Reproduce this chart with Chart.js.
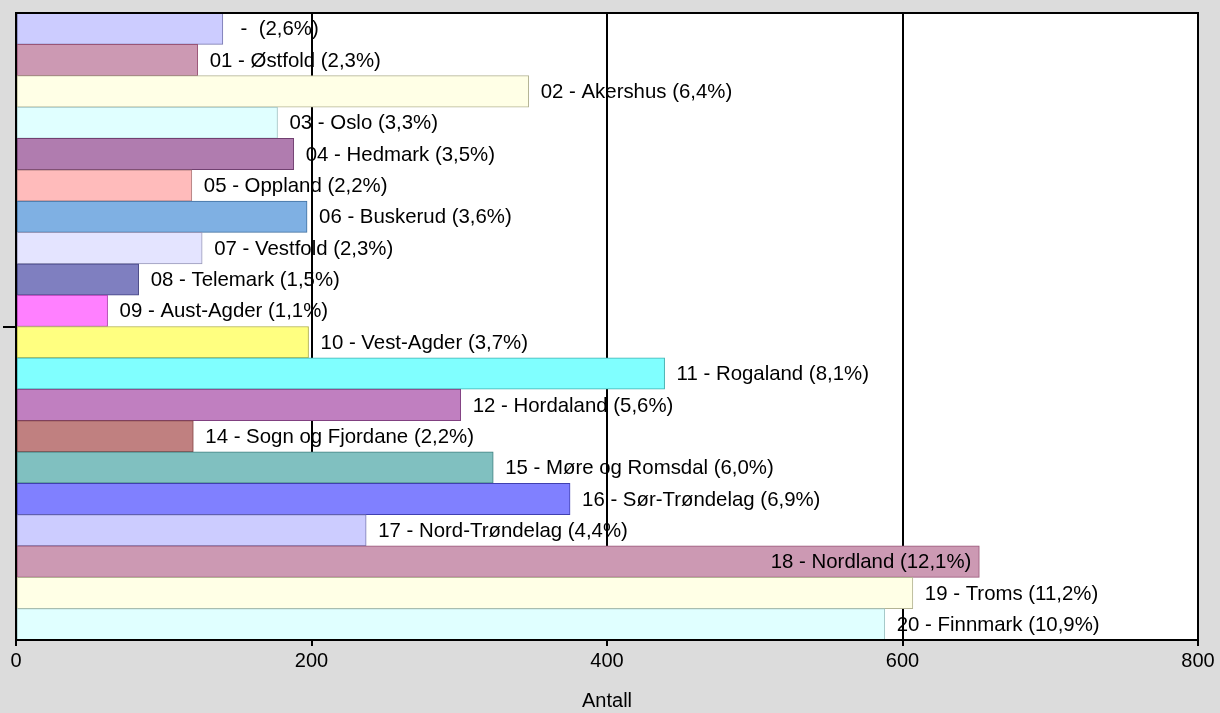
<!DOCTYPE html>
<html>
<head>
<meta charset="utf-8">
<script src="https://cdn.jsdelivr.net/npm/chart.js@4"></script>
<style>
    html, body { margin:0; padding:0; background:#dcdcdc; }
    #wrap { width:1220px; height:713px; }
</style>
</head>
<body>
<div id="wrap"><canvas id="chart" width="1220" height="713"></canvas></div>
<script>
/* ---------- DATA ---------- */
const codes = ["", "01", "02", "03", "04", "05", "06", "07", "08", "09",
               "10", "11", "12", "14", "15", "16", "17", "18", "19", "20"];
const names = ["", "Østfold", "Akershus", "Oslo", "Hedmark", "Oppland", "Buskerud", "Vestfold",
               "Telemark", "Aust-Agder", "Vest-Agder", "Rogaland", "Hordaland", "Sogn og Fjordane",
               "Møre og Romsdal", "Sør-Trøndelag", "Nord-Trøndelag", "Nordland", "Troms", "Finnmark"];
const antall = [140, 123, 347, 177, 188, 119, 197, 126, 83, 62,
                198, 439, 301, 120, 323, 375, 237, 652, 607, 588];
const andel = ["2,6%", "2,3%", "6,4%", "3,3%", "3,5%", "2,2%", "3,6%", "2,3%", "1,5%", "1,1%",
               "3,7%", "8,1%", "5,6%", "2,2%", "6,0%", "6,9%", "4,4%", "12,1%", "11,2%", "10,9%"];
const xTicks = [0, 200, 400, 600, 800];

/* ---------- STYLE ---------- */
const fills = ["#ccccff", "#cc99b3", "#ffffe6", "#e0ffff", "#b07caf", "#ffbbbb", "#7fb0e3", "#e4e4ff",
               "#7f7fc0", "#ff80ff", "#ffff80", "#80ffff", "#c07fc0", "#c08080", "#80c0c0", "#8080ff"];
const borders = ["#7878b0", "#995577", "#b4b494", "#a0c4c4", "#704070", "#b08080", "#4070a0", "#9898b8",
                 "#404080", "#b040b0", "#b0b040", "#40b0b0", "#804080", "#804040", "#408080", "#4040b0"];
const FONT = "Liberation Sans, Arial, sans-serif";
const LABEL_FONT = "20.4px " + FONT;

const labels = codes.map((c, i) => c + " - " + names[i] + " (" + andel[i] + ")");

function labelPlaces(chart) {
    const ctx = chart.ctx;
    const area = chart.chartArea;
    ctx.font = LABEL_FONT;
    return chart.getDatasetMeta(0).data.map((bar, i) => {
        const w = ctx.measureText(labels[i]).width;
        const inside = bar.x + 12 + w > area.right - 20;
        return { text: labels[i], y: bar.y, x: inside ? bar.x - 8 : bar.x + 12, inside };
    });
}

function drawLabels(chart, inside) {
    const ctx = chart.ctx;
    ctx.save();
    ctx.font = LABEL_FONT;
    ctx.fillStyle = "#000";
    ctx.textBaseline = "middle";
    labelPlaces(chart).forEach(p => {
        if (p.inside !== inside) return;
        ctx.textAlign = inside ? "right" : "left";
        ctx.fillText(p.text, p.x, p.y + 1);
    });
    ctx.restore();
}

/* ---------- PLUGINS ---------- */
const backdrop = {
    id: "backdrop",
    beforeDraw(chart) {
        const ctx = chart.ctx, a = chart.chartArea;
        ctx.save();
        ctx.fillStyle = "#dcdcdc";
        ctx.fillRect(0, 0, chart.width, chart.height);
        ctx.fillStyle = "#fff";
        ctx.fillRect(a.left, a.top, a.right - a.left, a.bottom - a.top);
        ctx.restore();
        drawLabels(chart, false);
    },
    afterDatasetsDraw(chart) {
        drawLabels(chart, true);
        const ctx = chart.ctx, a = chart.chartArea;
        ctx.save();
        ctx.strokeStyle = "#000";
        ctx.lineWidth = 2;
        ctx.strokeRect(a.left, a.top, a.right - a.left, a.bottom - a.top);
        // single tick on the category axis
        const mid = Math.round((a.top + a.bottom) / 2);
        ctx.beginPath();
        ctx.moveTo(a.left - 13, mid);
        ctx.lineTo(a.left, mid);
        ctx.stroke();
        ctx.restore();
    }
};

/* ---------- CHART ---------- */
new Chart(document.getElementById("chart"), {
    type: "bar",
    data: {
        labels,
        datasets: [{
            data: antall,
            backgroundColor: antall.map((v, i) => fills[i % fills.length]),
            borderColor: antall.map((v, i) => borders[i % borders.length]),
            borderWidth: 1,
            borderSkipped: false,
            categoryPercentage: 1,
            barPercentage: 1
        }]
    },
    options: {
        indexAxis: "y",
        responsive: false,
        animation: false,
        devicePixelRatio: 1,
        layout: { padding: { left: 16, right: 22, top: 13, bottom: 0 } },
        plugins: { legend: { display: false }, tooltip: { enabled: false } },
        scales: {
            y: { display: false },
            x: {
                min: 0,
                max: 800,
                afterBuildTicks(axis) { axis.ticks = xTicks.map(v => ({ value: v })); },
                grid: { color: "#000", lineWidth: 2, tickLength: 6, drawTicks: true },
                border: { color: "#000", width: 2 },
                ticks: { color: "#000", font: { family: FONT, size: 20 }, padding: 3, maxRotation: 0 },
                title: { display: true, text: "Antall", color: "#000",
                         font: { family: FONT, size: 20 }, padding: { top: 13, bottom: 0 } }
            }
        }
    },
    plugins: [backdrop]
});
</script>
</body>
</html>
